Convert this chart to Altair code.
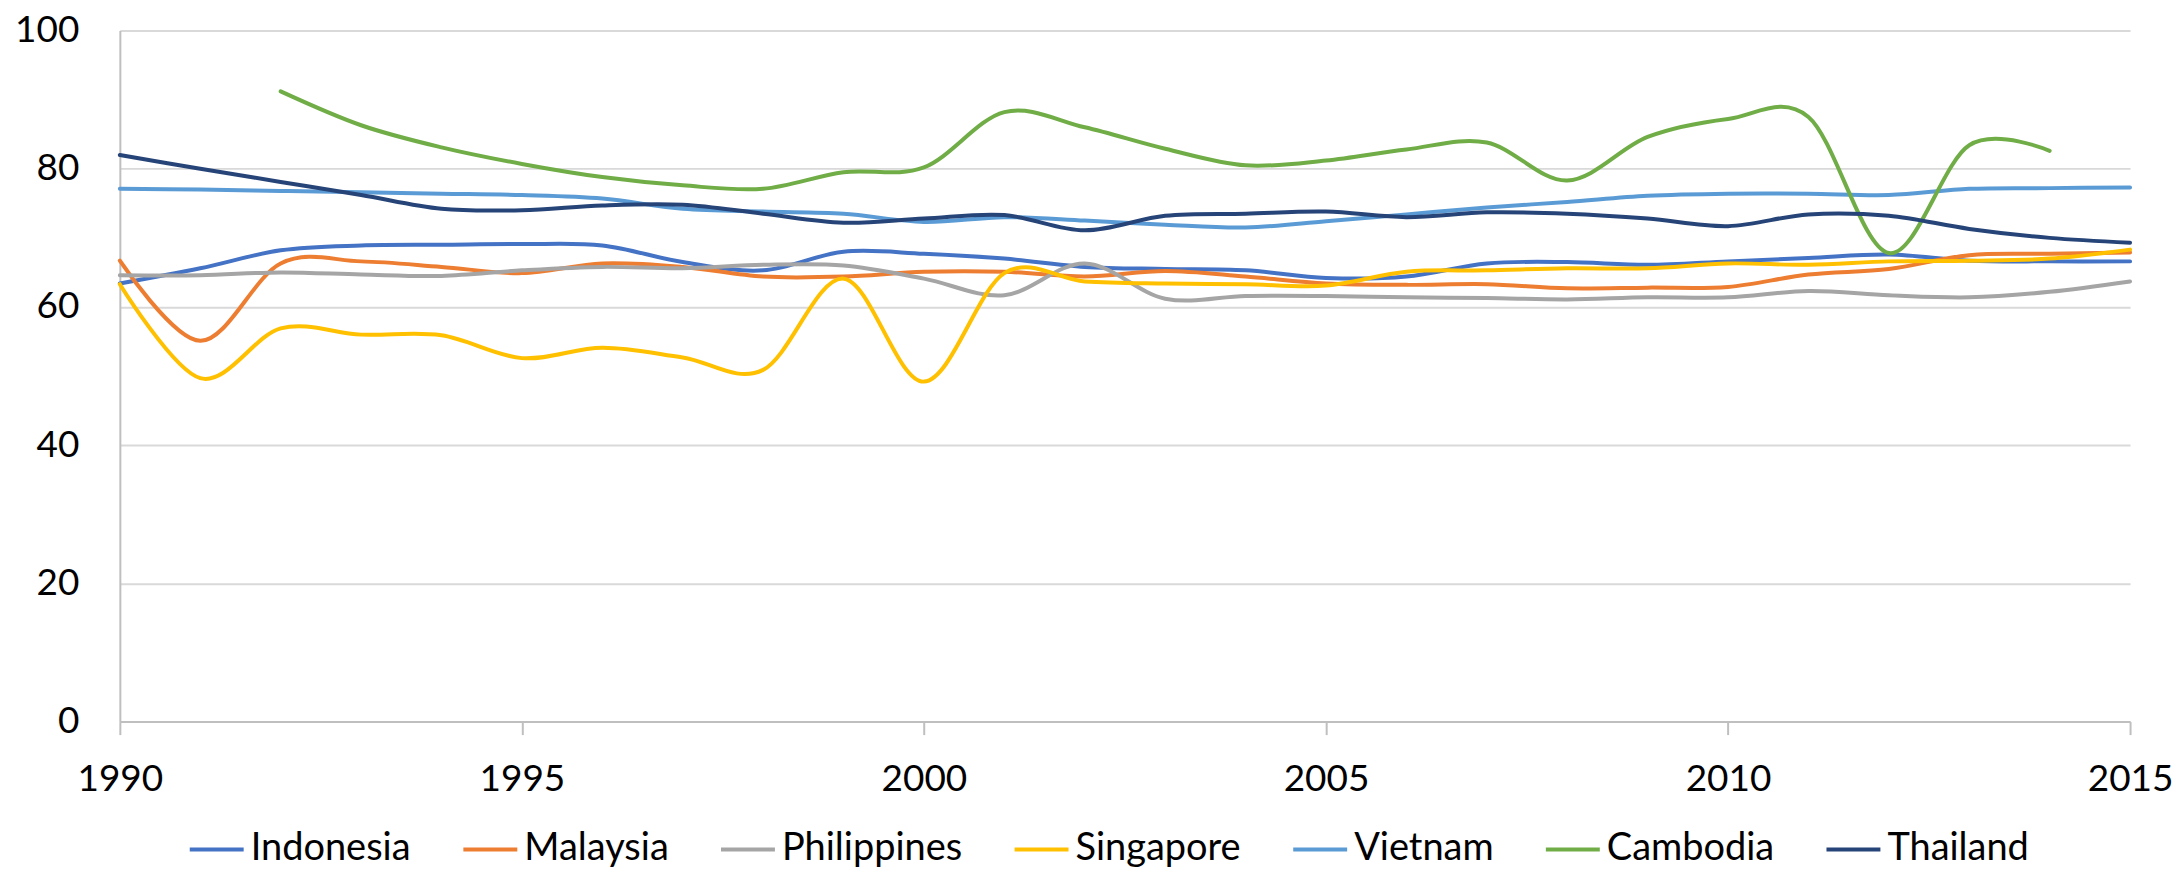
import altair as alt
import pandas as pd

years = list(range(1990, 2016))
countries = ["Indonesia", "Malaysia", "Philippines", "Singapore", "Vietnam", "Cambodia", "Thailand"]
colors = ["#4472C4", "#ED7D31", "#A5A5A5", "#FFC000", "#5B9BD5", "#70AD47", "#264478"]

indonesia = [63.4, 65.6, 68.2, 68.9, 69.0, 69.1, 68.9, 66.5, 65.3, 68.0, 67.7, 67.0, 65.8,
             65.5, 65.3, 64.2, 64.4, 66.3, 66.5, 66.1, 66.6, 67.1, 67.6, 66.7, 66.6, 66.6]
malaysia = [66.7, 55.1, 66.3, 66.6, 65.8, 64.9, 66.3, 65.8, 64.4, 64.4, 65.1, 65.1, 64.4,
            65.2, 64.4, 63.4, 63.2, 63.3, 62.7, 62.8, 62.9, 64.7, 65.5, 67.5, 67.7, 67.9]
philippines = [64.6, 64.6, 65.0, 64.7, 64.5, 65.3, 65.8, 65.6, 66.1, 66.0, 64.1, 61.7, 66.3,
               61.2, 61.6, 61.6, 61.4, 61.3, 61.1, 61.4, 61.4, 62.3, 61.7, 61.4, 62.2, 63.7]
singapore = [63.3, 49.7, 56.9, 56.0, 55.9, 52.6, 54.1, 52.7, 50.9, 64.1, 49.2, 64.9, 63.7,
             63.4, 63.3, 63.1, 65.1, 65.3, 65.6, 65.6, 66.3, 66.1, 66.6, 66.7, 67.0, 68.3]
vietnam = [77.1, 77.0, 76.8, 76.6, 76.4, 76.2, 75.7, 74.2, 73.8, 73.5, 72.3, 73.0, 72.5,
           71.9, 71.5, 72.4, 73.4, 74.4, 75.2, 76.1, 76.4, 76.4, 76.2, 77.1, 77.2, 77.3]
cambodia = [None, None, 91.2, 86.3, 83.1, 80.7, 78.8, 77.6, 77.1, 79.5, 80.2, 88.2, 86.0,
            82.9, 80.5, 81.2, 82.8, 83.8, 78.3, 84.6, 87.2, 87.5, 67.8, 83.4, 82.6, None]
thailand = [82.0, 80.0, 78.1, 76.2, 74.2, 74.0, 74.7, 74.8, 73.5, 72.2, 72.8, 73.3, 71.1,
            73.2, 73.5, 73.8, 73.0, 73.7, 73.5, 72.8, 71.7, 73.4, 73.2, 71.3, 70.0, 69.3]

series = [indonesia, malaysia, philippines, singapore, vietnam, cambodia, thailand]

rows = []
for name, vals in zip(countries, series):
    for yr, v in zip(years, vals):
        if v is not None:
            rows.append({"Year": yr, "Value": v, "Country": name})
df = pd.DataFrame(rows)

x_ticks = [1990, 1995, 2000, 2005, 2010, 2015]
y_ticks = [0, 20, 40, 60, 80, 100]

chart = alt.Chart(df).mark_line(
    interpolate="cardinal", tension=0, strokeWidth=4, strokeCap="round"
).encode(
    x=alt.X("Year:Q", scale=alt.Scale(domain=[1990, 2015], nice=False, zero=False),
            axis=alt.Axis(values=x_ticks, format="d", title=None, grid=False,
                          labelFlush=False, labelOverlap=False,
                          domainColor="#BFBFBF", domainWidth=2,
                          tickColor="#BFBFBF", tickWidth=2, tickSize=13,
                          labelPadding=27, labelFontSize=37, labelColor="#000000")),
    y=alt.Y("Value:Q", scale=alt.Scale(domain=[0, 100], nice=False),
            axis=alt.Axis(values=y_ticks, title=None, ticks=False, tickSize=0,
                          grid=True, gridColor="#D9D9D9", gridWidth=2,
                          domainColor="#BFBFBF", domainWidth=2,
                          labelPadding=41, labelFontSize=37, labelColor="#000000")),
    color=alt.Color("Country:N", sort=countries,
                    scale=alt.Scale(domain=countries, range=colors),
                    legend=alt.Legend(title=None, orient="none", legendX=68, legendY=791,
                                      direction="horizontal", columns=7,
                                      symbolType="stroke", symbolSize=2916,
                                      symbolStrokeWidth=4, labelFontSize=38,
                                      labelColor="#000000", labelOffset=5,
                                      columnPadding=44, labelLimit=400)),
    order=alt.Order("Year:Q"),
).properties(
    width=2013, height=692,
    autosize=alt.AutoSizeParams(type="none"),
    padding={"left": 112, "top": 22, "right": 42, "bottom": 150},
).configure(
    font="Lato",
    background="#FFFFFF",
).configure_view(
    stroke=None,
)

chart.save("out.html", embed_options={"renderer": "svg", "actions": False})
